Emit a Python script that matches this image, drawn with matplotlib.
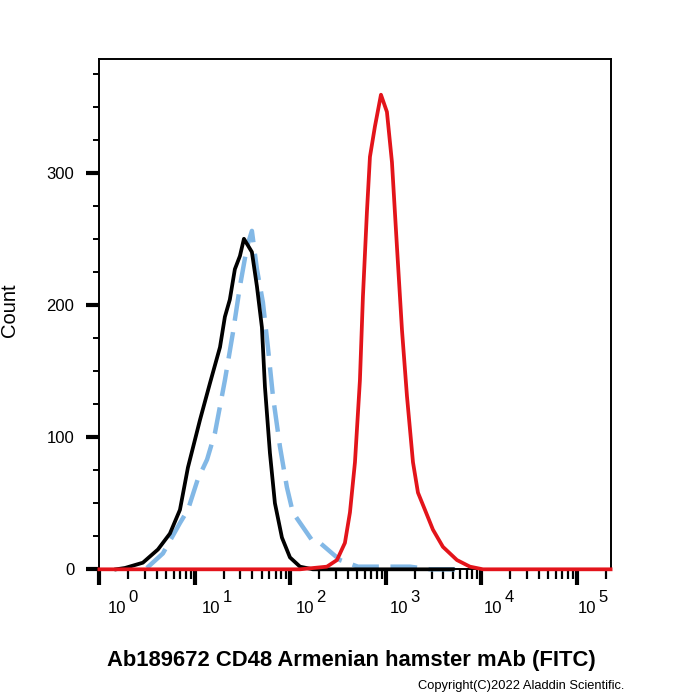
import matplotlib
matplotlib.use("Agg")
import matplotlib.pyplot as plt
import matplotlib.ticker as ticker
import numpy as np

plt.rcParams['font.family'] = ['Liberation Sans', 'DejaVu Sans']

# isotype control (black, solid)
ctrl_x = [1.5, 1.85, 2.85, 4.10, 5.47, 6.97, 8.45, 11.3, 14.4, 18.3, 20.6, 23.2, 26.2,
          29.6, 32.6, 39.5, 44.6, 50.3, 54.1, 61.0, 68.8, 81.5, 98.9, 126, 172, 5000]
ctrl_y = [0, 1, 5, 15, 27, 45, 77, 113, 141, 168, 191, 204, 227,
          237, 250, 240, 214, 183, 138, 88, 50, 24, 9, 2, 0, 0]

# unstained (blue, dashed)
blank_x = [3.14, 4.62, 6.97, 8.45, 10.7, 13.4, 16.2, 20.6, 25.0, 29.6, 35.1, 39.5, 44.6,
           51.5, 58.1, 65.6, 77.6, 91.9, 106, 135, 172, 204, 330, 509, 1024, 1783, 2890, 5960]
blank_y = [1, 12, 35, 45, 68, 83, 103, 143, 179, 214, 244, 256, 227,
           202, 168, 131, 93, 62, 43, 32, 21, 20, 7, 2, 2, 2, 0, 0]

# CD48 stained (red, solid)
cd48_x = [1, 126, 241, 307, 372, 420, 474, 534, 574, 632, 680, 767, 887, 1024, 1156,
          1304, 1472, 1660, 1919, 2164, 2561, 3105, 3950, 5540, 7580, 10370, 225000]
cd48_y = [0, 0, 2, 7, 20, 43, 81, 143, 206, 270, 312, 335, 359, 346, 308,
          244, 181, 131, 81, 58, 45, 30, 17, 7, 2, 0, 0]

decades = [0, 1, 2, 3, 4, 5]
y_major = [0, 100, 200, 300]

fig = plt.figure(figsize=(7, 7), dpi=100)
ax = fig.add_axes([0.142, 0.1867, 0.7304, 0.729])

ax.plot(ctrl_x, ctrl_y, color='black', lw=2.7, clip_on=False, zorder=3,
        solid_joinstyle='round')
ax.plot(blank_x, blank_y, color='#82b8e6', lw=3.2, dashes=(6, 2.6), clip_on=False, zorder=2)
ax.plot(cd48_x, cd48_y, color='#e3141b', lw=2.7, clip_on=False, zorder=4,
        solid_joinstyle='round')

ax.set_xscale('log')
ax.set_xlim(1, 10 ** 5.353)
ax.set_ylim(0, 386)

for s in ax.spines.values():
    s.set_linewidth(1.4)

ax.xaxis.set_major_locator(ticker.FixedLocator([10.0 ** d for d in decades]))
ax.xaxis.set_minor_locator(ticker.LogLocator(base=10, subs=np.arange(2, 10), numticks=20))
ax.xaxis.set_major_formatter(ticker.NullFormatter())
ax.xaxis.set_minor_formatter(ticker.NullFormatter())
ax.yaxis.set_major_locator(ticker.FixedLocator(y_major))
ax.yaxis.set_minor_locator(ticker.MultipleLocator(25))

ax.tick_params(axis='x', which='major', direction='out', length=11.5, width=3, color='black')
ax.tick_params(axis='x', which='minor', direction='out', length=7, width=1.6, color='black')
ax.tick_params(axis='y', which='major', direction='out', length=9.5, width=3, pad=8.5,
               labelsize=12)
ax.tick_params(axis='y', which='minor', direction='out', length=4.5, width=1.4)

# decade labels sit a bit right of their ticks in the original export
for k, d in enumerate(decades):
    dx = 18 - 1.6 * k
    ax.annotate('10', xy=(10.0 ** d, 0), xycoords=('data', 'axes fraction'),
                xytext=(dx * 0.72, -44 * 0.72), textcoords='offset points',
                ha='center', va='baseline', fontsize=12)
    ax.annotate(str(d), xy=(10.0 ** d, 0), xycoords=('data', 'axes fraction'),
                xytext=((dx + 16) * 0.72, -33 * 0.72), textcoords='offset points',
                ha='center', va='baseline', fontsize=12)

fig.text(0.014, 0.557, 'Count', rotation=90, ha='center', va='center', fontsize=14.5)
fig.text(0.502, 0.057, 'Ab189672 CD48 Armenian hamster mAb (FITC)', ha='center', va='center',
         fontsize=15.8, fontweight='bold')
fig.text(0.745, 0.02, 'Copyright(C)2022 Aladdin Scientific.', ha='center', va='center',
         fontsize=9.3)

fig.savefig('out.png', dpi=100)
